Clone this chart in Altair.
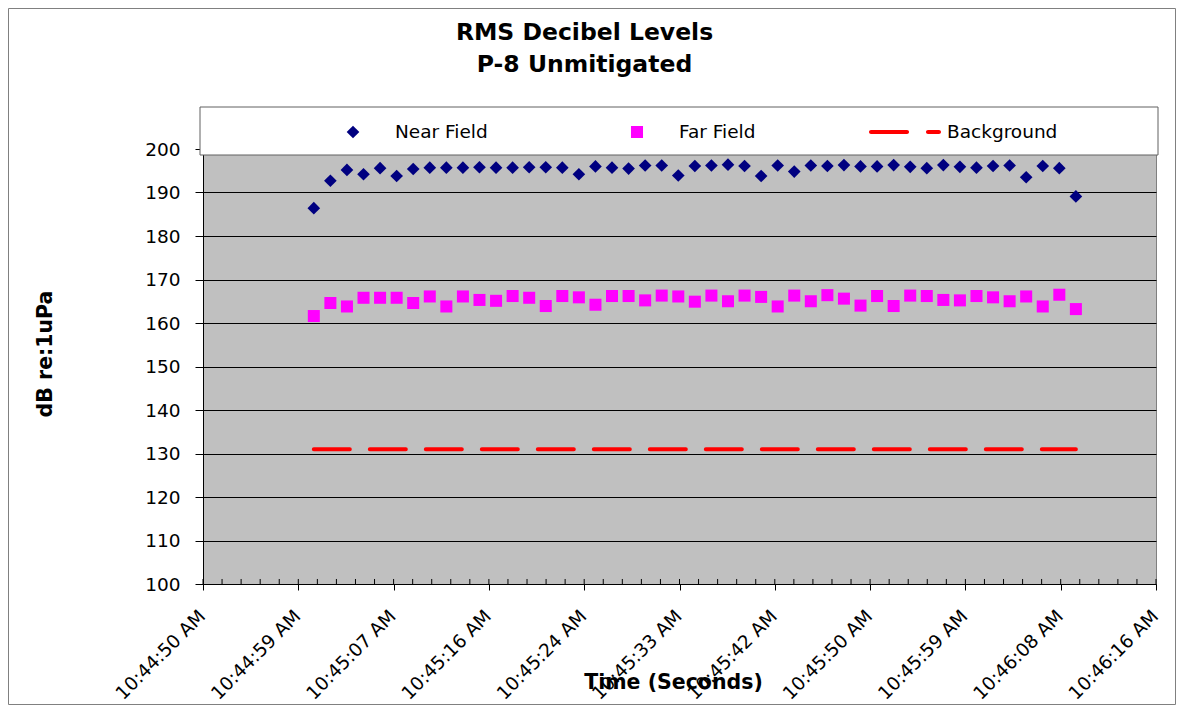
import altair as alt
import pandas as pd

# ---------------- data ----------------
tick_labels = ["10:44:50 AM", "10:44:59 AM", "10:45:07 AM", "10:45:16 AM",
               "10:45:24 AM", "10:45:33 AM", "10:45:42 AM", "10:45:50 AM",
               "10:45:59 AM", "10:46:08 AM", "10:46:16 AM"]
tick_step = 8.6          # seconds between labelled ticks (axis starts 10:44:50)
first_sample = 10.0      # seconds after 10:44:50
sample_step = 1.495      # seconds between samples

near_field = [186.4, 192.7, 195.2, 194.2, 195.6, 193.8, 195.4, 195.7, 195.7, 195.7,
              195.8, 195.7, 195.7, 195.8, 195.8, 195.7, 194.2, 196.0, 195.7, 195.5,
              196.2, 196.2, 193.9, 196.1, 196.2, 196.4, 196.1, 193.8, 196.2, 194.8,
              196.2, 196.1, 196.3, 196.0, 196.0, 196.3, 195.9, 195.6, 196.3, 195.9,
              195.7, 196.1, 196.2, 193.5, 196.1, 195.6, 189.1]
far_field = [161.6, 164.6, 163.8, 165.8, 165.8, 165.8, 164.6, 166.1, 163.8, 166.1,
             165.3, 165.1, 166.2, 165.8, 163.9, 166.2, 165.9, 164.2, 166.2, 166.2,
             165.2, 166.3, 166.1, 164.9, 166.3, 165.0, 166.3, 166.0, 163.8, 166.3,
             165.0, 166.4, 165.6, 164.0, 166.2, 163.9, 166.3, 166.2, 165.3, 165.2,
             166.2, 165.9, 165.0, 166.1, 163.8, 166.5, 163.2]
background = [131.0] * len(near_field)

series_names = ["Near Field", "Far Field", "Background"]
series_colors = ["#000080", "#FF00FF", "#FF0000"]

times = [round(first_sample + sample_step * i, 3) for i in range(len(near_field))]

rows = []
for name, vals in zip(series_names, [near_field, far_field, background]):
    for t, v in zip(times, vals):
        rows.append({"series": name, "t": t, "db": v})
df = pd.DataFrame(rows)

tick_vals = [round(tick_step * i, 3) for i in range(len(tick_labels))]
minor_vals = [round(tick_step / 5 * i, 3) for i in range(5 * (len(tick_labels) - 1) + 1)]
minor_df = pd.DataFrame({"t": minor_vals})

FONT = "DejaVu Sans"
W, H = 953, 435

# symbol shapes (unit box scaled by sqrt(size)/2 = 36 px)
SYMBOL_SIZE = 5184
diamond_path = "M-0.176,0L0,-0.176L0.176,0L0,0.176Z"
square_path = "M-0.167,-0.167H0.167V0.167H-0.167Z"
dash_path = ("M-0.944,-0.056H0.056A0.056,0.056 0 0 1 0.056,0.056"
             "H-0.944A0.056,0.056 0 0 1 -0.944,-0.056Z "
             "M0.639,-0.056H0.944A0.056,0.056 0 0 1 0.944,0.056"
             "H0.639A0.056,0.056 0 0 1 0.639,-0.056Z")

label_js = "[" + ",".join("'" + s + "'" for s in tick_labels) + "]"

xscale = alt.Scale(domain=[0, tick_step * (len(tick_labels) - 1)], nice=False, zero=False)
yscale = alt.Scale(domain=[100, 200], nice=False, zero=False)

xaxis = alt.Axis(
    values=tick_vals, labelExpr=label_js + "[round(datum.value/" + str(tick_step) + ")]",
    labelAngle=315, labelAlign="right", labelBaseline="alphabetic", labelPadding=27,
    labelOffset=3,
    labelFont=FONT, labelFontSize=18.5, labelColor="black", labelOverlap=False,
    labelFlush=False, tickSize=6, tickColor="black", domainColor="black", grid=False,
    title="Time (Seconds)", titleFont=FONT, titleFontSize=20.5, titleFontWeight="bold",
    titleColor="black", titleX=470, titleY=104, titleBaseline="alphabetic",
    titleAnchor="middle")
yaxis = alt.Axis(
    values=list(range(100, 201, 10)), labelFont=FONT, labelFontSize=18.5,
    labelColor="black", labelPadding=15, tickSize=8, tickColor="black",
    domainColor="black", grid=True, gridColor="black", gridOpacity=1, gridWidth=1,
    title="dB re:1uPa", titleFont=FONT, titleFontSize=20.5, titleFontWeight="bold",
    titleColor="black", titleAngle=270, titleX=-158, titleY=204.5,
    titleBaseline="middle", titleAlign="center")

legend = alt.Legend(
    title=None, orient="none", legendX=114, legendY=-28, direction="horizontal",
    columns=3, columnPadding=113, labelOffset=6, clipHeight=22, padding=0,
    labelFont=FONT, labelFontSize=18.5, labelColor="black", symbolStrokeWidth=0,
    symbolSize=SYMBOL_SIZE, symbolOpacity=1)

dom = series_names
points = alt.Chart(df).transform_filter(
    alt.FieldOneOfPredicate(field="series", oneOf=["Near Field", "Far Field"])
).mark_point(filled=True, opacity=1, strokeWidth=0, size=SYMBOL_SIZE).encode(
    x=alt.X("t:Q", scale=xscale, axis=xaxis),
    y=alt.Y("db:Q", scale=yscale, axis=yaxis),
    color=alt.Color("series:N", scale=alt.Scale(domain=dom, range=series_colors), legend=legend),
    shape=alt.Shape("series:N", scale=alt.Scale(domain=dom, range=[diamond_path, square_path, dash_path]), legend=legend),
)

bg_line = alt.Chart(df).transform_filter(alt.datum.series == "Background").mark_line(
    color="#FF0000", strokeWidth=4, strokeDash=[36, 20], strokeCap="round"
).encode(x=alt.X("t:Q", scale=xscale), y=alt.Y("db:Q", scale=yscale))

minor = alt.Chart(minor_df).mark_rule(color="black", strokeWidth=1).encode(
    x=alt.X("t:Q", scale=xscale), y=alt.datum(100, scale=yscale), y2=alt.datum(101.15))

one = pd.DataFrame({"k": [0]})
legend_box = alt.Chart(one).mark_rect(fill="white", stroke="#606060", strokeWidth=1).encode(
    x=alt.value(-3), x2=alt.value(955), y=alt.value(-42), y2=alt.value(6))
frame = alt.Chart(one).mark_rect(fill=None, stroke="#808080", strokeWidth=1).encode(
    x=alt.value(-194.5), x2=alt.value(972.5), y=alt.value(-140.5), y2=alt.value(555.5))

chart = alt.layer(bg_line, points, minor, legend_box, frame).properties(
    width=W, height=H,
    title=alt.Title(text=["RMS Decibel Levels", "P-8 Unmitigated"], font=FONT,
                    fontSize=23.5, fontWeight="bold", color="black", anchor="middle",
                    frame="group", dx=-95, offset=0, dy=68, lineHeight=32),
    autosize=alt.AutoSizeParams(type="none"),
    padding={"left": 195, "top": 141, "right": 20, "bottom": 121},
    background="white",
).configure_view(fill="#C0C0C0", stroke="#808080", strokeWidth=1)

chart.save("out.html", embed_options={"renderer": "svg", "actions": False})
